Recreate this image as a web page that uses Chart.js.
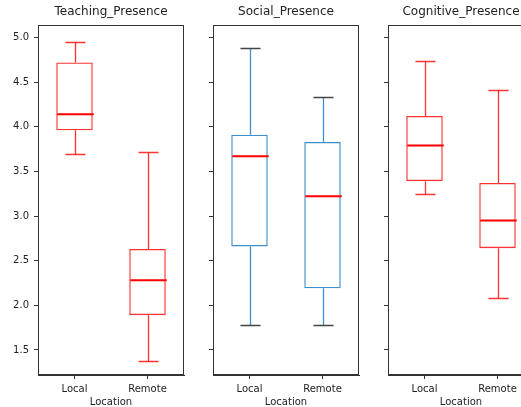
<!DOCTYPE html>
<html>
<head>
<meta charset="utf-8">
<script src="https://cdn.jsdelivr.net/npm/chart.js@4.4.1/dist/chart.umd.min.js"></script>
<style>
    html, body { margin: 0; padding: 0; background: #fff; overflow: hidden; width: 521px; height: 407px; }
    .panel { position: absolute; top: 0; }
</style>
</head>
<body>
<canvas id="teaching" class="panel" width="190" height="407" style="left:0px"></canvas>
<canvas id="social" class="panel" width="175" height="407" style="left:190px"></canvas>
<canvas id="cognitive" class="panel" width="175" height="407" style="left:365px"></canvas>
<script>
// Categories and tick labels
const categories = ['Local', 'Remote'];
const yTicks = [1.5, 2.0, 2.5, 3.0, 3.5, 4.0, 4.5, 5.0];

// Teaching_Presence five-number summaries
const teachingMin    = [3.69, 1.38];
const teachingQ1     = [3.96, 1.89];
const teachingMedian = [4.14, 2.28];
const teachingQ3     = [4.72, 2.63];
const teachingMax    = [4.95, 3.72];

// Social_Presence
const socialMin    = [1.78, 1.78];
const socialQ1     = [2.66, 2.19];
const socialMedian = [3.67, 3.22];
const socialQ3     = [3.91, 3.83];
const socialMax    = [4.88, 4.33];

// Cognitive_Presence
const cognitiveMin    = [3.25, 2.08];
const cognitiveQ1     = [3.39, 2.64];
const cognitiveMedian = [3.79, 2.95];
const cognitiveQ3     = [4.12, 3.37];
const cognitiveMax    = [4.74, 4.41];

const FONT = 'DejaVu Sans';
const AXIS = '#333';

// draws whiskers, caps, median and the frame using the chart's scales
const boxExtras = {
    id: 'boxExtras',
    afterDatasetsDraw(chart, args, opts) {
        const ctx = chart.ctx;
        const x = chart.scales.x, y = chart.scales.y;
        const meta = chart.getDatasetMeta(0);
        ctx.save();
        meta.data.forEach((bar, i) => {
            const cx = Math.round(x.getPixelForValue(i)) + 0.5;
            const half = bar.width / 2;
            const capHalf = half * 0.55;
            const pMin = Math.round(y.getPixelForValue(opts.min[i])) + 0.5;
            const pQ1 = y.getPixelForValue(opts.q1[i]);
            const pQ3 = y.getPixelForValue(opts.q3[i]);
            const pMax = Math.round(y.getPixelForValue(opts.max[i])) + 0.5;
            const pMed = y.getPixelForValue(opts.median[i]);

            // whiskers
            ctx.strokeStyle = opts.whiskerColor;
            ctx.lineWidth = 1.3;
            ctx.beginPath();
            ctx.moveTo(cx, pQ1); ctx.lineTo(cx, pMin);
            ctx.moveTo(cx, pQ3); ctx.lineTo(cx, pMax);
            ctx.stroke();

            // caps
            ctx.strokeStyle = opts.capColor;
            ctx.beginPath();
            ctx.moveTo(cx - capHalf, pMin); ctx.lineTo(cx + capHalf, pMin);
            ctx.moveTo(cx - capHalf, pMax); ctx.lineTo(cx + capHalf, pMax);
            ctx.stroke();

            // median
            ctx.strokeStyle = '#ff0000';
            ctx.lineWidth = 2;
            ctx.beginPath();
            ctx.moveTo(cx - half, pMed); ctx.lineTo(cx + half, pMed);
            ctx.stroke();
        });

        // full frame around the plot area
        const a = chart.chartArea;
        ctx.strokeStyle = AXIS;
        ctx.lineWidth = 1;
        ctx.strokeRect(Math.round(a.left) + 0.5, Math.round(a.top) + 0.5,
            Math.round(a.right - a.left) - 1, Math.round(a.bottom - a.top) - 1);
        ctx.restore();
    }
};

function makePanel(id, title, min, q1, median, q3, max, boxColor, whiskerColor, capColor, showYLabels) {
    new Chart(document.getElementById(id), {
        type: 'bar',
        data: {
            labels: categories,
            datasets: [{
                data: q1.map((v, i) => [v, q3[i]]),
                backgroundColor: 'rgba(255,255,255,0)',
                borderColor: boxColor,
                borderWidth: 1.3,
                borderSkipped: false,
                barPercentage: 0.5,
                categoryPercentage: 1.0
            }]
        },
        options: {
            responsive: false,
            animation: false,
            layout: { padding: { left: 0, right: 6, top: 0, bottom: 0 } },
            scales: {
                x: {
                    offset: true,
                    grid: { display: true, offset: false, drawOnChartArea: false, drawTicks: true, tickLength: 4, color: AXIS },
                    border: { display: true, color: AXIS },
                    ticks: { color: '#222', font: { family: FONT, size: 10 }, padding: 4, maxRotation: 0 },
                    title: { display: true, text: 'Location', color: '#222', font: { family: FONT, size: 10 }, padding: { top: 0, bottom: -1 } },
                    afterFit: s => { s.height = 32; }
                },
                y: {
                    min: 1.22,
                    max: 5.134,
                    afterBuildTicks: s => { s.ticks = yTicks.map(v => ({ value: v })); },
                    grid: { display: true, drawOnChartArea: false, drawTicks: true, tickLength: 4, color: AXIS },
                    border: { display: true, color: AXIS },
                    ticks: {
                        display: showYLabels,
                        color: '#222',
                        font: { family: FONT, size: 10 },
                        padding: 5,
                        callback: v => Number(v).toFixed(1)
                    },
                    afterFit: s => { s.width = showYLabels ? 38 : 23; }
                }
            },
            plugins: {
                legend: { display: false },
                tooltip: { enabled: false },
                title: {
                    display: true,
                    text: title,
                    fullSize: false,
                    color: '#222',
                    font: { family: FONT, size: 12, weight: 'normal' },
                    padding: { top: 5, bottom: 6 }
                },
                boxExtras: { min, q1, median, q3, max, whiskerColor, capColor }
            }
        },
        plugins: [boxExtras]
    });
}

makePanel('teaching', 'Teaching_Presence',
    teachingMin, teachingQ1, teachingMedian, teachingQ3, teachingMax,
    'rgba(255,0,0,0.8)', 'rgba(255,0,0,0.8)', 'rgba(255,0,0,0.8)', true);
makePanel('social', 'Social_Presence',
    socialMin, socialQ1, socialMedian, socialQ3, socialMax,
    '#3f8fcc', '#3f8fcc', '#444', false);
makePanel('cognitive', 'Cognitive_Presence',
    cognitiveMin, cognitiveQ1, cognitiveMedian, cognitiveQ3, cognitiveMax,
    'rgba(255,0,0,0.8)', 'rgba(255,0,0,0.8)', 'rgba(255,0,0,0.8)', false);
</script>
</body>
</html>
